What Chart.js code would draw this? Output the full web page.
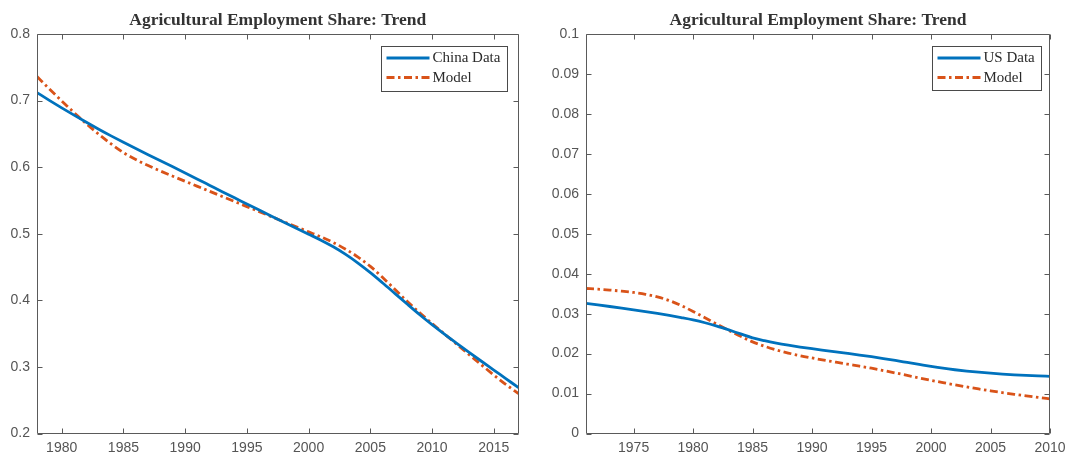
<!DOCTYPE html>
<html>
<head>
<meta charset="utf-8">
<script src="https://cdn.jsdelivr.net/npm/chart.js@4.4.1/dist/chart.umd.min.js"></script>
<style>
  html, body { margin: 0; padding: 0; background: #ffffff; }
  #wrap { position: relative; width: 1066px; height: 456px; overflow: hidden; background: #ffffff; }
  .pane { position: absolute; top: 0; width: 533px; height: 456px; }
  #paneChina { left: 0; }
  #paneUS { left: 533px; }
</style>
</head>
<body>
<div id="wrap">
  <div class="pane" id="paneChina"><canvas id="chinaChart" width="533" height="456"></canvas></div>
  <div class="pane" id="paneUS"><canvas id="usChart" width="533" height="456"></canvas></div>
</div>
<script>
// ---- Agricultural employment share, trend component ----
const TITLE = 'Agricultural Employment Share: Trend';

// China, 1978-2017
const CHINA_YEARS = [1978, 1979, 1980, 1981, 1982, 1983, 1984, 1985, 1986, 1987,
                     1988, 1989, 1990, 1991, 1992, 1993, 1994, 1995, 1996, 1997,
                     1998, 1999, 2000, 2001, 2002, 2003, 2004, 2005, 2006, 2007,
                     2008, 2009, 2010, 2011, 2012, 2013, 2014, 2015, 2016, 2017];
const CHINA_DATA  = [0.7120, 0.7004, 0.6891, 0.6781, 0.6674, 0.6570, 0.6470, 0.6373, 0.6279, 0.6187,
                     0.6096, 0.6005, 0.5913, 0.5820, 0.5726, 0.5632, 0.5539, 0.5448, 0.5355, 0.5264,
                     0.5174, 0.5084, 0.4994, 0.4904, 0.4804, 0.4690, 0.4560, 0.4416, 0.4261, 0.4101,
                     0.3941, 0.3784, 0.3634, 0.3491, 0.3353, 0.3218, 0.3085, 0.2953, 0.2821, 0.2689];
const CHINA_MODEL = [0.7360, 0.7175, 0.6995, 0.6820, 0.6652, 0.6494, 0.6349, 0.6219, 0.6114, 0.6024,
                     0.5942, 0.5864, 0.5788, 0.5712, 0.5636, 0.5560, 0.5484, 0.5408, 0.5332, 0.5256,
                     0.5180, 0.5104, 0.5028, 0.4953, 0.4868, 0.4768, 0.4650, 0.4510, 0.4342, 0.4162,
                     0.3982, 0.3812, 0.3652, 0.3495, 0.3339, 0.3184, 0.3030, 0.2878, 0.2733, 0.2598];
const CHINA_X_TICKS = [1980, 1985, 1990, 1995, 2000, 2005, 2010, 2015];
const CHINA_Y_TICKS = [0.2, 0.3, 0.4, 0.5, 0.6, 0.7, 0.8];
const CHINA_Y_LABELS = ['0.2', '0.3', '0.4', '0.5', '0.6', '0.7', '0.8'];

// United States, 1971-2010
const US_YEARS  = [1971, 1972, 1973, 1974, 1975, 1976, 1977, 1978, 1979, 1980,
                   1981, 1982, 1983, 1984, 1985, 1986, 1987, 1988, 1989, 1990,
                   1991, 1992, 1993, 1994, 1995, 1996, 1997, 1998, 1999, 2000,
                   2001, 2002, 2003, 2004, 2005, 2006, 2007, 2008, 2009, 2010];
const US_DATA   = [0.03260, 0.03220, 0.03179, 0.03137, 0.03094, 0.03050, 0.03004, 0.02955, 0.02902, 0.02844,
                   0.02772, 0.02687, 0.02592, 0.02492, 0.02394, 0.02324, 0.02264, 0.02212, 0.02165, 0.02122,
                   0.02082, 0.02043, 0.02004, 0.01964, 0.01922, 0.01877, 0.01829, 0.01779, 0.01729, 0.01679,
                   0.01634, 0.01596, 0.01563, 0.01534, 0.01509, 0.01488, 0.01470, 0.01455, 0.01442, 0.01431];
const US_MODEL  = [0.03630, 0.03612, 0.03590, 0.03563, 0.03530, 0.03485, 0.03420, 0.03328, 0.03203, 0.03055,
                   0.02897, 0.02737, 0.02582, 0.02432, 0.02294, 0.02184, 0.02092, 0.02014, 0.01948, 0.01890,
                   0.01836, 0.01784, 0.01734, 0.01684, 0.01634, 0.01576, 0.01516, 0.01454, 0.01392, 0.01332,
                   0.01274, 0.01218, 0.01165, 0.01115, 0.01068, 0.01024, 0.00982, 0.00942, 0.00903, 0.00865];
const US_X_TICKS = [1975, 1980, 1985, 1990, 1995, 2000, 2005, 2010];
const US_Y_TICKS = [0, 0.01, 0.02, 0.03, 0.04, 0.05, 0.06, 0.07, 0.08, 0.09, 0.1];
const US_Y_LABELS = ['0', '0.01', '0.02', '0.03', '0.04', '0.05', '0.06', '0.07', '0.08', '0.09', '0.1'];

// ---- styling ----
const BLUE = '#0072BD';
const ORANGE = '#D95319';
const AXIS_COLOR = '#5a5a5a';
const LABEL_COLOR = '#555555';
const SANS = "'Liberation Sans', Arial, Helvetica, sans-serif";
const SERIF = "'Liberation Serif', 'Times New Roman', serif";

const toPoints = (xs, ys) => xs.map((x, i) => ({ x, y: ys[i] }));

// Boxed axes with inward tick marks on all four sides
const boxFrame = {
  id: 'boxFrame',
  afterDatasetsDraw(chart) {
    const { ctx, chartArea: a, scales: { x, y } } = chart;
    const L = 5;
    const left = Math.round(a.left) + 0.5, right = Math.round(a.right) - 0.5;
    const top = Math.round(a.top) + 0.5, bottom = Math.round(a.bottom) - 0.5;
    ctx.save();
    ctx.strokeStyle = AXIS_COLOR;
    ctx.lineWidth = 1;
    ctx.beginPath();
    x.ticks.forEach(t => {
      const px = Math.round(x.getPixelForValue(t.value)) + 0.5;
      ctx.moveTo(px, bottom); ctx.lineTo(px, bottom - L);
      ctx.moveTo(px, top); ctx.lineTo(px, top + L);
    });
    y.ticks.forEach(t => {
      const py = Math.round(y.getPixelForValue(t.value)) + 0.5;
      ctx.moveTo(left, py); ctx.lineTo(left + L, py);
      ctx.moveTo(right, py); ctx.lineTo(right - L, py);
    });
    ctx.rect(left, top, right - left, bottom - top);
    ctx.stroke();
    ctx.restore();
  }
};

// Boxed legend in the upper-right corner of the plot area
const boxLegend = {
  id: 'boxLegend',
  afterDraw(chart, args, opts) {
    const { ctx, chartArea: a } = chart;
    const sets = chart.data.datasets;
    ctx.save();
    ctx.font = `15px ${SERIF}`;
    const textW = Math.max(...sets.map(d => ctx.measureText(d.label).width));
    const padL = 5, lineLen = 43, gap = 3, padR = 7;
    const w = Math.round(padL + lineLen + gap + textW + padR);
    const x0 = Math.round(a.right - opts.rightInset - w) + 0.5;
    const y0 = opts.top + 0.5;
    const h = opts.height;
    ctx.fillStyle = '#ffffff';
    ctx.fillRect(x0, y0, w, h);
    ctx.strokeStyle = '#4a4a4a';
    ctx.lineWidth = 1;
    ctx.strokeRect(x0, y0, w, h);
    sets.forEach((d, i) => {
      const cy = opts.rowY[i];
      ctx.beginPath();
      ctx.strokeStyle = d.borderColor;
      ctx.lineWidth = d.borderWidth;
      ctx.setLineDash(d.borderDash || []);
      ctx.moveTo(x0 + padL, cy);
      ctx.lineTo(x0 + padL + lineLen, cy);
      ctx.stroke();
      ctx.setLineDash([]);
      ctx.fillStyle = '#2a2a2a';
      ctx.textBaseline = 'middle';
      ctx.textAlign = 'left';
      ctx.fillText(d.label, x0 + padL + lineLen + gap, cy + 0.5);
    });
    ctx.restore();
  }
};

function makeChart(canvasId, cfg) {
  return new Chart(document.getElementById(canvasId), {
    type: 'line',
    data: {
      datasets: [
        {
          label: cfg.dataLabel,
          data: toPoints(cfg.years, cfg.data),
          borderColor: BLUE,
          borderWidth: 2.8,
          pointRadius: 0,
          cubicInterpolationMode: 'monotone',
          fill: false,
          clip: 0
        },
        {
          label: 'Model',
          data: toPoints(cfg.years, cfg.model),
          borderColor: ORANGE,
          borderWidth: 2.8,
          borderDash: [8, 3.5, 2.5, 3.5],
          pointRadius: 0,
          cubicInterpolationMode: 'monotone',
          fill: false,
          clip: 0
        }
      ]
    },
    options: {
      responsive: false,
      animation: false,
      devicePixelRatio: 1,
      layout: { padding: { left: 0, right: cfg.padRight, top: 0, bottom: 0 } },
      plugins: {
        legend: { display: false },
        tooltip: { enabled: false },
        title: {
          display: true,
          text: TITLE,
          fullSize: false,
          color: '#333333',
          font: { family: SERIF, size: 17.5, weight: 'bold', lineHeight: 1.2 },
          padding: { top: 10, bottom: 3 }
        },
        boxLegend: cfg.legend
      },
      scales: {
        x: {
          type: 'linear',
          min: cfg.xMin,
          max: cfg.xMax,
          afterBuildTicks: s => { s.ticks = cfg.xTicks.map(v => ({ value: v })); },
          afterFit: s => { s.height = 22.5; s.paddingLeft = 0; s.paddingRight = 0; },
          grid: { display: false, drawTicks: false },
          border: { display: false },
          ticks: {
            color: LABEL_COLOR,
            font: { family: SANS, size: 14 },
            padding: 6,
            maxRotation: 0,
            autoSkip: false,
            callback: v => String(v)
          }
        },
        y: {
          type: 'linear',
          min: cfg.yTicks[0],
          max: cfg.yTicks[cfg.yTicks.length - 1],
          afterBuildTicks: s => { s.ticks = cfg.yTicks.map(v => ({ value: v })); },
          afterFit: s => { s.width = cfg.yAxisWidth; s.paddingTop = 0; s.paddingBottom = 0; },
          grid: { display: false, drawTicks: false },
          border: { display: false },
          ticks: {
            color: LABEL_COLOR,
            font: { family: SANS, size: 14 },
            padding: 7,
            autoSkip: false,
            callback: (v, i) => cfg.yLabels[i]
          }
        }
      }
    },
    plugins: [boxFrame, boxLegend]
  });
}

makeChart('chinaChart', {
  dataLabel: 'China Data',
  years: CHINA_YEARS, data: CHINA_DATA, model: CHINA_MODEL,
  xMin: 1978, xMax: 2017, xTicks: CHINA_X_TICKS,
  yTicks: CHINA_Y_TICKS, yLabels: CHINA_Y_LABELS,
  yAxisWidth: 37, padRight: 14.5,
  legend: { rightInset: 11.5, top: 46, height: 45, rowY: [58, 77.5] }
});

makeChart('usChart', {
  dataLabel: 'US Data',
  years: US_YEARS, data: US_DATA, model: US_MODEL,
  xMin: 1971, xMax: 2010, xTicks: US_X_TICKS,
  yTicks: US_Y_TICKS, yLabels: US_Y_LABELS,
  yAxisWidth: 53, padRight: 16,
  legend: { rightInset: 9, top: 46, height: 44, rowY: [58, 77.5] }
});
</script>
</body>
</html>
